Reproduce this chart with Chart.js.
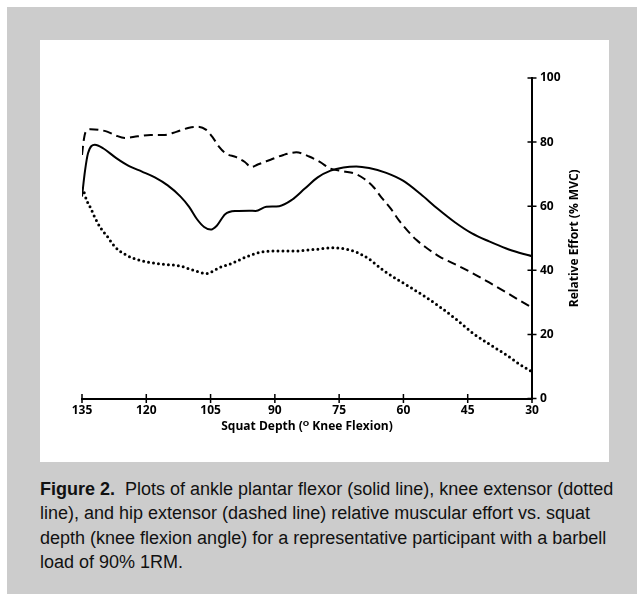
<!DOCTYPE html>
<html>
<head>
<meta charset="utf-8">
<script src="https://cdn.jsdelivr.net/npm/chart.js@4.4.1/dist/chart.umd.min.js"></script>
<style>
  html, body { margin: 0; padding: 0; background: #ffffff; }
  body { width: 637px; height: 594px; position: relative; overflow: hidden; }
  #outer { position: absolute; left: 7px; top: 7px; width: 630px; height: 587px; background: #cccccc; }
  #panel { position: absolute; left: 40px; top: 40px; width: 569px; height: 422px; background: #ffffff; }
  #panel canvas { position: absolute; left: 0; top: 0; }
  #caption { position: absolute; left: 40px; top: 477px; width: 590px; font-family: "Liberation Sans", Arial, sans-serif; font-size: 18px; line-height: 24.3px; color: #111; white-space: nowrap; }
  #caption b { font-weight: bold; }
</style>
</head>
<body>
<div id="outer"></div>
<div id="panel"><canvas id="c" width="569" height="422"></canvas></div>
<div id="caption"><b>Figure 2.</b>&nbsp; Plots of ankle plantar flexor (solid line), knee extensor (dotted<br>line), and hip extensor (dashed line) relative muscular effort vs. squat<br>depth (knee flexion angle) for a representative participant with a barbell<br>load of 90% 1RM.</div>
<script>
// ---- data (knee flexion angle in degrees, relative effort in % MVC) ----
const ankleAngles = [135, 134.3, 133.6, 132, 130, 127, 124, 121, 118, 115, 112, 110, 108.2, 106.5, 105, 103.5, 101.6, 99, 96, 94.5, 92, 89, 86, 83, 80, 77, 74, 71, 68, 64, 60, 56, 52, 48, 44, 40, 36, 33, 30];
const ankleEffort = [63, 71, 76.5, 79.2, 78, 75, 72.5, 70.8, 69, 66.5, 63, 59.8, 56, 53.5, 52.7, 54, 57.5, 58.5, 58.6, 58.5, 59.8, 60, 62, 65.5, 69, 71.1, 72.1, 72.4, 71.9, 70.4, 67.9, 63.8, 59.2, 55, 51.5, 49, 46.8, 45.5, 44.4];

const kneeAngles = [135, 134.7, 133.9, 133, 132, 130.8, 129, 127.3, 124.6, 121.5, 117, 112, 109, 106, 103, 100, 97, 93.5, 89.5, 85.7, 80, 76.5, 73, 71, 68, 64.7, 61.5, 58.5, 55, 51.5, 47.5, 43.7, 40, 36, 33, 30];
const kneeEffort = [65.5, 65, 61.8, 59.5, 56.5, 53.5, 50.4, 47.3, 44.7, 43.1, 42, 41.3, 40, 39, 40.8, 42.2, 44, 45.6, 46, 46, 46.6, 47, 46.5, 45.7, 43.5, 40, 37.2, 34.8, 31.8, 28.6, 24.5, 20.3, 17, 13.6, 10.8, 8.3];

const hipAngles = [135, 134.6, 134.2, 133, 131, 129, 127, 125, 122, 119, 116, 113, 110, 108, 106, 104.5, 103, 101.5, 99, 97, 95.5, 94, 91, 88, 85, 82, 79.5, 77, 74, 71, 69, 67, 65, 63, 61, 59, 57, 54.5, 51.5, 48, 44, 40, 36, 33, 30];
const hipEffort = [76, 80.5, 83, 84, 83.8, 83.2, 82, 81.3, 81.8, 82.2, 82.2, 83.2, 84.5, 84.8, 83.8, 81.5, 78.5, 76.5, 75.3, 73.8, 72.2, 73, 74.5, 76, 76.8, 75.5, 73.8, 71.7, 70.9, 70, 68.4, 66, 62.5, 59.3, 55.5, 52.3, 49.5, 46.9, 44.2, 41.9, 39.2, 36.2, 33.1, 30.7, 28.4];

const xTickValues = [135, 120, 105, 90, 75, 60, 45, 30];
const yTickValues = [0, 20, 40, 60, 80, 100];
const xTitle = "Squat Depth (\u1D3C Knee Flexion)";
const yTitle = "Relative Effort (% MVC)";

function pts(xs, ys) { return xs.map((x, i) => ({ x: x, y: ys[i] })); }

const TICK_FONT = { family: "'Open Sans', 'DejaVu Sans', sans-serif", size: 12, weight: 'bold' };

const crossTicks = {
  id: 'crossTicks',
  afterDraw(chart) {
    const ctx = chart.ctx;
    const xs = chart.scales.x, ys = chart.scales.y;
    const ca = chart.chartArea;
    ctx.save();
    ctx.strokeStyle = '#000';
    ctx.lineWidth = 1.5;
    ctx.beginPath();
    xTickValues.forEach(v => {
      const px = xs.getPixelForValue(v);
      ctx.moveTo(px, ca.bottom - 4.5);
      ctx.lineTo(px, ca.bottom + 4.5);
    });
    yTickValues.forEach(v => {
      const py = ys.getPixelForValue(v);
      ctx.moveTo(ca.right - 4.5, py);
      ctx.lineTo(ca.right + 4.5, py);
    });
    ctx.stroke();
    // y axis title, reading bottom-to-top
    ctx.fillStyle = '#000';
    ctx.font = "bold 12px 'Open Sans', 'DejaVu Sans', sans-serif";
    ctx.textAlign = 'center';
    ctx.textBaseline = 'middle';
    ctx.translate(ca.right + 43, (ca.top + ca.bottom) / 2);
    ctx.rotate(-Math.PI / 2);
    ctx.fillText(yTitle, 0, 0);
    ctx.restore();
  }
};

new Chart(document.getElementById('c'), {
  type: 'line',
  data: {
    datasets: [
      { label: 'Ankle plantar flexor', data: pts(ankleAngles, ankleEffort), borderColor: '#000', borderWidth: 2, pointRadius: 0, cubicInterpolationMode: 'monotone', fill: false },
      { label: 'Knee extensor', data: pts(kneeAngles, kneeEffort), borderColor: '#000', borderWidth: 3, borderDash: [0, 5], borderCapStyle: 'round', pointRadius: 0, cubicInterpolationMode: 'monotone', fill: false },
      { label: 'Hip extensor', data: pts(hipAngles, hipEffort), borderColor: '#000', borderWidth: 2, borderDash: [9, 5], pointRadius: 0, cubicInterpolationMode: 'monotone', fill: false }
    ]
  },
  options: {
    responsive: false,
    animation: false,
    devicePixelRatio: 1,
    layout: { padding: { left: 42, top: 38, right: 0, bottom: 0 } },
    plugins: { legend: { display: false }, tooltip: { enabled: false } },
    scales: {
      x: {
        type: 'linear',
        reverse: true,
        min: 30, max: 135,
        afterBuildTicks: s => { s.ticks = xTickValues.map(v => ({ value: v })); },
        afterFit: s => { s.height = 63.5; },
        grid: { display: false, drawTicks: false },
        border: { display: true, color: '#000', width: 2 },
        ticks: { color: '#000', font: TICK_FONT, padding: 5, maxRotation: 0, autoSkip: false },
        title: { display: true, text: xTitle, color: '#000', font: TICK_FONT, padding: { top: 0, bottom: 27.8 } }
      },
      y: {
        type: 'linear',
        position: 'right',
        min: 0, max: 100,
        afterBuildTicks: s => { s.ticks = yTickValues.map(v => ({ value: v })); },
        afterFit: s => { s.width = 77; },
        grid: { display: false, drawTicks: false },
        border: { display: true, color: '#000', width: 2 },
        ticks: { color: '#000', font: TICK_FONT, padding: 8 }
      }
    }
  },
  plugins: [crossTicks]
});
</script>
</body>
</html>
